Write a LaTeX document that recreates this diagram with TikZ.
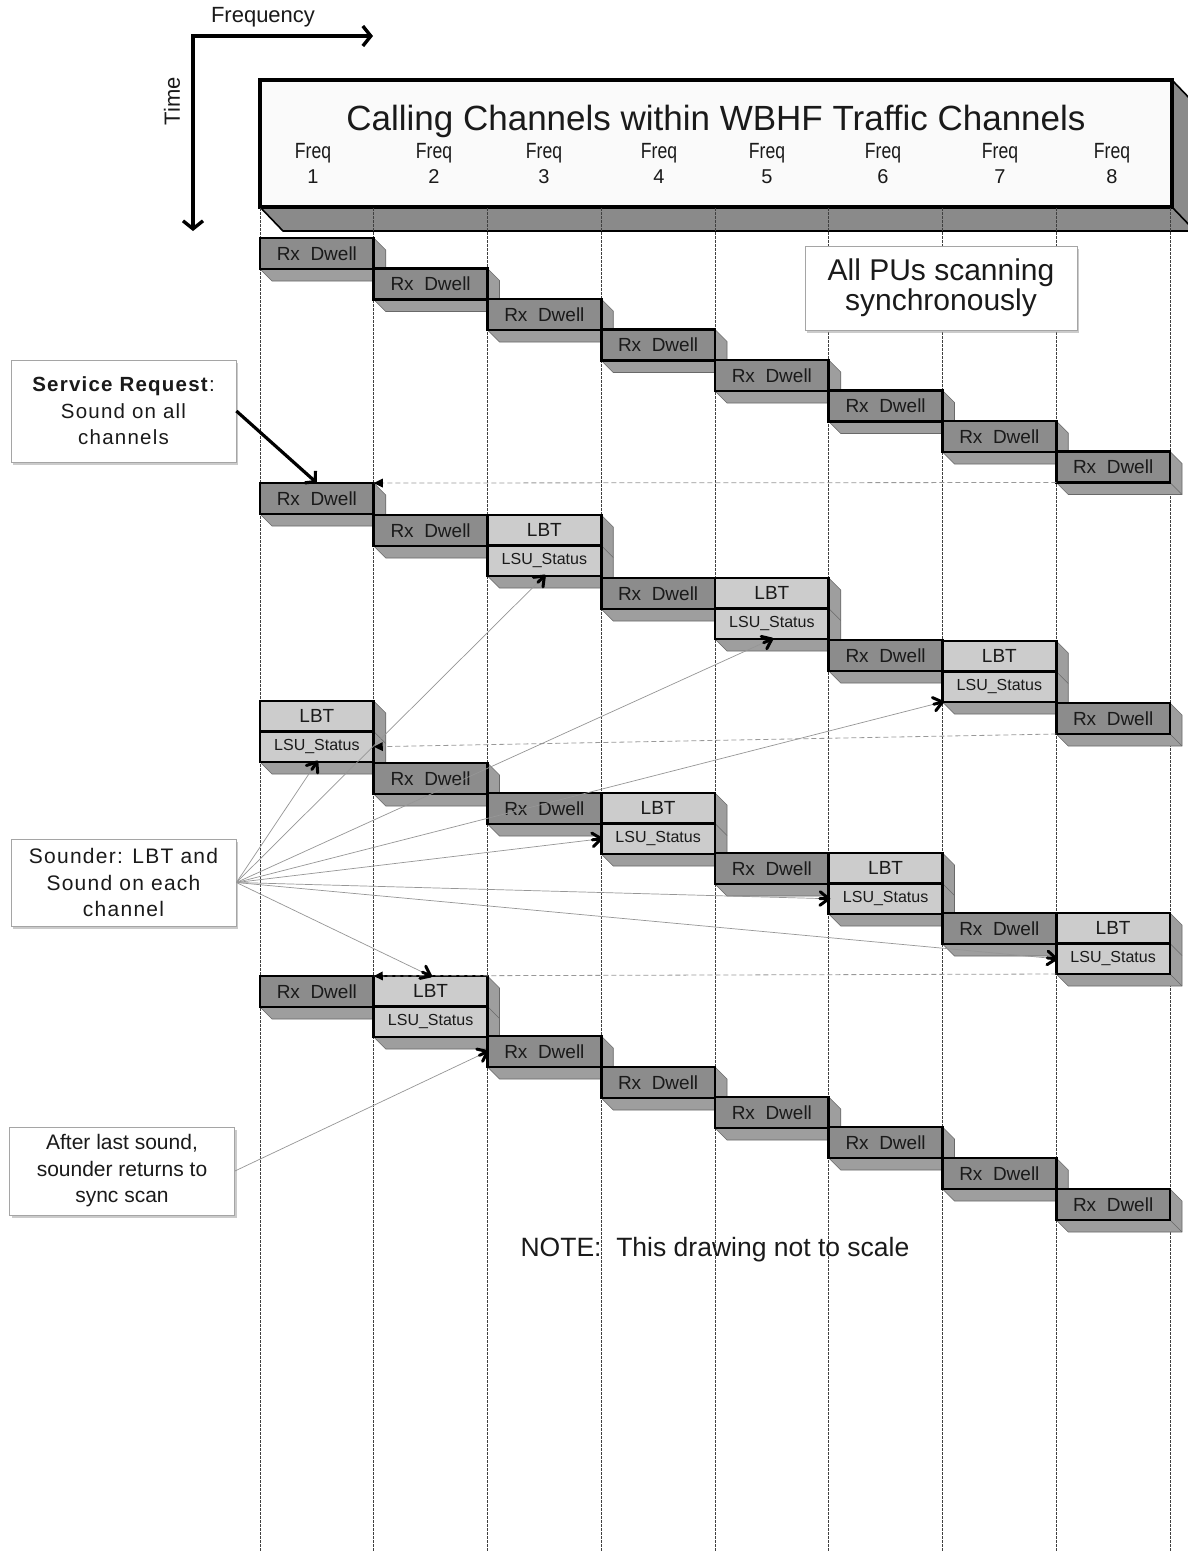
\documentclass[tikz,border=0pt]{standalone}
\usepackage{fontspec}
\setmainfont{Liberation Sans}
\newfontfamily\narrowfont[FakeStretch=0.8]{Liberation Sans}
\newfontfamily\spacedfont[LetterSpace=6]{Liberation Sans}
\usetikzlibrary{arrows.meta,shadows,calc}

\definecolor{ink}{RGB}{26,26,26}
\definecolor{rxfill}{RGB}{140,140,140}
\definecolor{lbtfill}{RGB}{204,204,204}
\definecolor{sidefill}{RGB}{158,158,158}
\definecolor{sideline}{RGB}{105,105,105}
\definecolor{hdrfill}{RGB}{250,250,250}
\definecolor{hdrside}{RGB}{138,138,138}
\definecolor{fanline}{RGB}{150,150,150}
\definecolor{calloutline}{RGB}{165,165,165}

\newcommand{\px}[1]{\fontsize{#1}{#1}\selectfont}

% depth faces (bottom and right) of a block whose front face is (#1,#2)-(#3,#4)
\newcommand{\blockdepth}[4]{%
  \filldraw[fill=sidefill, draw=sideline, line width=0.6pt, line join=round]
    (#1,#4) -- (#1+12,#4+12) -- (#3+12,#4+12) -- (#3+12,#2+12) -- (#3,#2) -- (#3,#4) -- cycle;
  \draw[sideline, line width=0.6pt] (#3,#4) -- (#3+12,#4+12);}

% receive dwell block: name, column, top edge
\newcommand{\rxdwell}[3]{%
  \pgfmathsetmacro{\bxl}{260+113.75*(#2-1)}%
  \pgfmathsetmacro{\bxr}{\bxl+113.75}%
  \pgfmathsetmacro{\byb}{#3+31}%
  \blockdepth{\bxl}{#3}{\bxr}{\byb}%
  \node[rxface] (#1) at (\bxl,#3) {Rx\ \ Dwell};}

% LBT + LSU_Status block: name prefix, column, top edge
\newcommand{\lbtpair}[3]{%
  \pgfmathsetmacro{\bxl}{260+113.75*(#2-1)}%
  \pgfmathsetmacro{\bxr}{\bxl+113.75}%
  \pgfmathsetmacro{\bym}{#3+30.5}%
  \pgfmathsetmacro{\byb}{#3+61}%
  \blockdepth{\bxl}{#3}{\bxr}{\byb}%
  \draw[sideline, line width=0.6pt] (\bxr,\bym) -- (\bxr+12,\bym+12);
  \node[lbtface] (#1b) at (\bxl,#3) {LBT};
  \node[lsuface] (#1s) at (\bxl,\bym) {LSU\_Status};}

% thin grey pointer ending in a bold black chevron: from, to
\newcommand{\pointer}[2]{%
  \draw[fanline, line width=0.7pt] (#1) -- (#2);
  \draw[black, line width=3pt, line cap=round] ($(#2)!9pt!(#1)$) -- (#2);
  \draw[black, line width=3pt, line cap=round, line join=round]
    ($(#2)!11pt!38:(#1)$) -- (#2) -- ($(#2)!11pt!-38:(#1)$);}

% dashed wrap-around line with a black triangular tip: from, to
\newcommand{\wrapline}[2]{%
  \draw[black!40, line width=0.8pt, dash pattern=on 5pt off 3pt] (#1) -- (#2);
  \fill[black] (#2) -- ($(#2)!9pt!(#1)!4.5pt!90:(#1)$) -- ($(#2)!9pt!(#1)!4.5pt!-90:(#1)$) -- cycle;}

\begin{document}
\begin{tikzpicture}[x=1pt, y=-1pt,
  face/.style={draw=black, line width=2.8pt, inner sep=0pt, outer sep=0pt, text=ink,
    anchor=north west, minimum width=113.75pt},
  rxface/.style={face, fill=rxfill, minimum height=31pt, font=\px{19}},
  lbtface/.style={face, fill=lbtfill, minimum height=30.5pt, font=\px{19}},
  lsuface/.style={lbtface, font=\px{16}},
  callout/.style={draw=calloutline, line width=0.8pt, fill=white, align=center, text=ink,
    inner sep=0pt, drop shadow={shadow xshift=2pt, shadow yshift=-2.5pt, fill=black!40, opacity=0.5}},
  colline/.style={black!75, line width=0.7pt, dash pattern=on 2.5pt off 1.5pt},
  axis/.style={line width=3.4pt, line join=miter},
  freqlbl/.style={text=ink, inner sep=0pt, font=\narrowfont\px{22}},
  numlbl/.style={text=ink, inner sep=0pt, font=\px{20}}
]
\fill[white] (0,0) rectangle (1188,1551);
\useasboundingbox (0,0) rectangle (1188,1551);

% time / frequency axes
\coordinate (origin) at (193,36);
\coordinate (fend) at (373,36);
\coordinate (tend) at (193,231);
\draw[axis, {Straight Barb[length=8pt, width=20pt]}-{Straight Barb[length=8pt, width=20pt]}]
  (fend) -- (origin) -- (tend);
\node[text=ink, font=\px{22}] (flabel) at (263,17) {Frequency};
\node[text=ink, font=\px{22}, rotate=90] (tlabel) at (172,101) {Time};

% header block
\filldraw[fill=hdrside, draw=black, line width=1.6pt, line join=round]
  (260,207) -- (283,231) -- (1195,231) -- (1195,104) -- (1172,80) -- (1172,207) -- cycle;
\draw[black, line width=1.6pt] (1172,207) -- (1195,231);
\node[draw=black, line width=3.2pt, fill=hdrfill, inner sep=0pt, outer sep=0pt, anchor=north west,
  minimum width=912pt, minimum height=127pt] (hdr) at (260,80) {};
\node[text=ink, font=\px{35}] (title) at (716,121) {Calling Channels within WBHF Traffic Channels};
\foreach \fx [count=\k] in {313,434,544,659,767,883,1000,1112} {
  \node[freqlbl] (freq\k) at (\fx,153) {Freq};
  \node[numlbl] (fnum\k) at (\fx,177) {\k};
}

% channel grid
\foreach \k in {0,...,8} {
  \draw[colline] (260+113.75*\k,208) -- (260+113.75*\k,1551);
}

% synchronous scan
\rxdwell{r11}{1}{238}
\rxdwell{r12}{2}{268.5}
\rxdwell{r13}{3}{299}
\rxdwell{r14}{4}{329.5}
\rxdwell{r15}{5}{360}
\rxdwell{r16}{6}{390.5}
\rxdwell{r17}{7}{421}
\rxdwell{r18}{8}{451.5}

% scan with sounding
\rxdwell{r21}{1}{483}
\rxdwell{r22}{2}{515}
\lbtpair{a3}{3}{515}
\rxdwell{r24}{4}{578}
\lbtpair{a5}{5}{578}
\rxdwell{r26}{6}{640}
\lbtpair{a7}{7}{641}
\lbtpair{s1}{1}{701}
\rxdwell{r28}{8}{703}
\rxdwell{r32}{2}{763}
\rxdwell{r33}{3}{793}
\lbtpair{s4}{4}{793}
\rxdwell{r35}{5}{853}
\lbtpair{s6}{6}{853}
\rxdwell{r37}{7}{913}
\lbtpair{s8}{8}{913}

% return to synchronous scan
\rxdwell{r41}{1}{976}
\lbtpair{q2}{2}{976}
\rxdwell{r43}{3}{1036}
\rxdwell{r44}{4}{1067}
\rxdwell{r45}{5}{1097}
\rxdwell{r46}{6}{1127}
\rxdwell{r47}{7}{1158}
\rxdwell{r48}{8}{1189}

% wrap-around to the first channel
\wrapline{r18.south west}{r21.north east}
\wrapline{r28.south west}{s1s.east}
\wrapline{s8s.south west}{q2b.north west}

% callouts
\node[callout, minimum width=225pt, minimum height=102pt, font=\spacedfont\px{20.5}] (sreq) at (123.5,411)
  {\textbf{Service Request}:\\[6pt] Sound on all\\[6pt] channels};
\node[callout, minimum width=272pt, minimum height=84pt, font=\px{30}] (pus) at (941,288)
  {All PUs scanning\\ synchronously};
\node[callout, minimum width=225pt, minimum height=87pt, font=\spacedfont\px{21}] (sounder) at (123.5,882.5)
  {Sounder: LBT and\\[5.5pt] Sound on each\\[5.5pt] channel};
\node[callout, minimum width=225pt, minimum height=88pt, font=\px{21}] (after) at (122,1171)
  {After last sound,\\[5.5pt] sounder returns to\\[5.5pt] sync scan};

% service request arrow
\draw[line width=3.2pt, -{Straight Barb[length=7pt, width=16pt]}] (sreq.east) -- (r21.north);

% sounder fan
\pointer{sounder.east}{s1s.south}
\pointer{sounder.east}{a3s.south}
\pointer{sounder.east}{a5s.south}
\pointer{sounder.east}{a7s.south west}
\pointer{sounder.east}{s4s.west}
\pointer{sounder.east}{s6s.west}
\pointer{sounder.east}{s8s.west}
\pointer{sounder.east}{q2b.north}
\pointer{after.east}{r43.west}

\node[text=ink, font=\px{26.5}] (note) at (715,1250) {NOTE:\ \ This drawing not to scale};
\end{tikzpicture}
\end{document}
